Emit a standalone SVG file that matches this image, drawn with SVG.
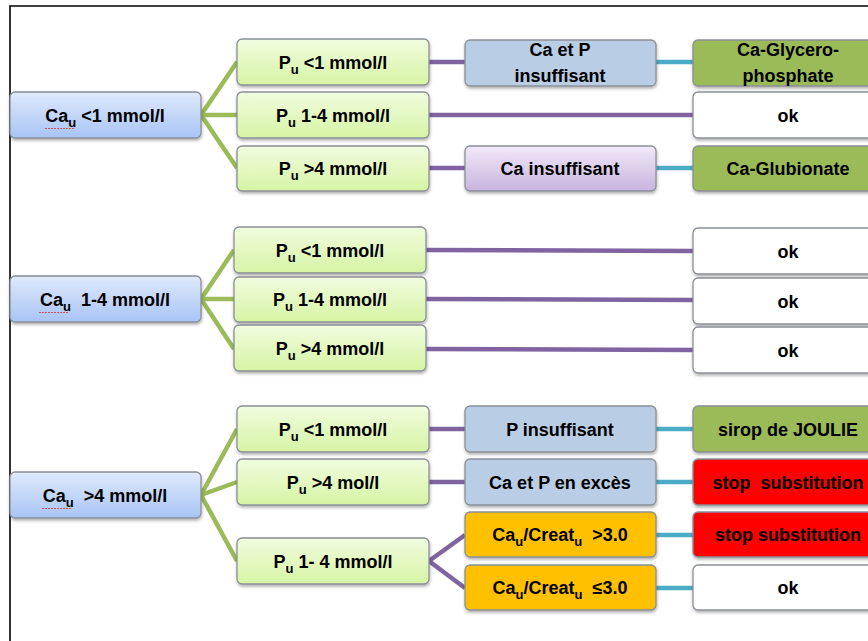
<svg xmlns="http://www.w3.org/2000/svg" width="868" height="641" viewBox="0 0 868 641">
<defs>
<linearGradient id="gBlue" x1="0" y1="0" x2="0" y2="1"><stop offset="0" stop-color="#dfeafc"/><stop offset="1" stop-color="#a8c4f5"/></linearGradient>
<linearGradient id="gGreen" x1="0" y1="0" x2="0" y2="1"><stop offset="0" stop-color="#f1fcdf"/><stop offset="1" stop-color="#d6f4a4"/></linearGradient>
<linearGradient id="gPurple" x1="0" y1="0" x2="0" y2="1"><stop offset="0" stop-color="#f1e9f8"/><stop offset="1" stop-color="#c8b4df"/></linearGradient>
<filter id="sh" x="-10%" y="-20%" width="120%" height="160%"><feDropShadow dx="0.5" dy="2" stdDeviation="1.5" flood-color="#000" flood-opacity="0.3"/></filter>
</defs>
<style>
.box{stroke:#8a8f96;stroke-width:1.3;filter:url(#sh)}
.l{fill:url(#gBlue)}
.p{fill:url(#gGreen)}
.pu{fill:url(#gPurple)}
.bg{fill:#b9cde5}
.or{fill:#ffc000}
.gr{fill:#9bbb59}
.rd{fill:#ff0000}
.wh{fill:#ffffff}
text{font-family:"Liberation Sans",Arial,sans-serif;font-weight:bold;font-size:18px;fill:#000;text-anchor:middle}
.sub{font-size:13px}
.cg{stroke:#9bbb59;stroke-width:4.5;fill:none}
.cp{stroke:#8064a2;stroke-width:4.5;fill:none}
.cc{stroke:#4bacc6;stroke-width:4.5;fill:none}
.sp{stroke:#e03030;stroke-width:0.8;fill:none;stroke-dasharray:2 1}
</style>
<rect width="868" height="641" fill="#fff"/>
<polyline points="10,641 10,6 868,6" fill="none" stroke="#000" stroke-width="1.6"/>

<g id="connectors">
<path class="cg" d="M201,115 L237,62 M201,115 L237,115 M201,115 L237,168"/>
<path class="cg" d="M201,299 L234,250 M201,299 L234,299 M201,299 L234,349"/>
<path class="cg" d="M201,495 L237,429 M201,495 L237,482 M201,495 L237,561"/>
<path class="cp" d="M429,62 L465,62 M429,115 L693,115 M429,168 L465,168"/>
<path class="cp" d="M426,250 L693,251 M426,299 L693,300 M426,349 L693,350"/>
<path class="cp" d="M429,429 L465,429 M429,482 L465,482 M465,535 L429,561 L465,588"/>
<path class="cc" d="M656,62 L693,62 M656,168 L693,168 M656,429 L693,429 M656,482 L693,482 M656,535 L693,535 M656,588 L693,588"/>
</g>

<g id="n-ca1"><rect class="box l" x="10" y="92" width="191" height="46" rx="5"/><text x="105" y="122" xml:space="preserve">Ca<tspan class="sub" dy="5">u</tspan><tspan dy="-5"> &lt;1 mmol/l</tspan></text><path class="sp" d="M45,128.5 L74,128.5"/></g>
<g id="n-ca2"><rect class="box l" x="10" y="276" width="191" height="46" rx="5"/><text x="105" y="306" xml:space="preserve">Ca<tspan class="sub" dy="5">u</tspan><tspan dy="-5">  1-4 mmol/l</tspan></text><path class="sp" d="M39,312.5 L68,312.5"/></g>
<g id="n-ca3"><rect class="box l" x="10" y="472" width="191" height="46" rx="5"/><text x="105" y="502" xml:space="preserve">Ca<tspan class="sub" dy="5">u</tspan><tspan dy="-5">  &gt;4 mmol/l</tspan></text><path class="sp" d="M42,508.5 L71,508.5"/></g>

<g id="n-p11"><rect class="box p" x="237" y="39" width="192" height="46" rx="5"/><text x="333" y="69">P<tspan class="sub" dy="5">u</tspan><tspan dy="-5"> &lt;1 mmol/l</tspan></text></g>
<g id="n-p12"><rect class="box p" x="237" y="92" width="192" height="46" rx="5"/><text x="333" y="122">P<tspan class="sub" dy="5">u</tspan><tspan dy="-5"> 1-4 mmol/l</tspan></text></g>
<g id="n-p13"><rect class="box p" x="237" y="146" width="192" height="45" rx="5"/><text x="333" y="175">P<tspan class="sub" dy="5">u</tspan><tspan dy="-5"> &gt;4 mmol/l</tspan></text></g>

<g id="n-p21"><rect class="box p" x="234" y="227" width="192" height="46" rx="5"/><text x="330" y="257">P<tspan class="sub" dy="5">u</tspan><tspan dy="-5"> &lt;1 mmol/l</tspan></text></g>
<g id="n-p22"><rect class="box p" x="234" y="277" width="192" height="45" rx="5"/><text x="330" y="306">P<tspan class="sub" dy="5">u</tspan><tspan dy="-5"> 1-4 mmol/l</tspan></text></g>
<g id="n-p23"><rect class="box p" x="234" y="325" width="192" height="46" rx="5"/><text x="330" y="355">P<tspan class="sub" dy="5">u</tspan><tspan dy="-5"> &gt;4 mmol/l</tspan></text></g>

<g id="n-p31"><rect class="box p" x="237" y="406" width="192" height="46" rx="5"/><text x="333" y="436">P<tspan class="sub" dy="5">u</tspan><tspan dy="-5"> &lt;1 mmol/l</tspan></text></g>
<g id="n-p32"><rect class="box p" x="237" y="459" width="192" height="46" rx="5"/><text x="333" y="489">P<tspan class="sub" dy="5">u</tspan><tspan dy="-5"> &gt;4 mol/l</tspan></text></g>
<g id="n-p33"><rect class="box p" x="237" y="538" width="192" height="46" rx="5"/><text x="333" y="568">P<tspan class="sub" dy="5">u</tspan><tspan dy="-5"> 1- 4 mmol/l</tspan></text></g>

<g id="n-m1"><rect class="box bg" x="465" y="40" width="191" height="46" rx="5"/><text x="560" y="56">Ca et P</text><text x="560" y="82">insuffisant</text></g>
<g id="n-m2"><rect class="box pu" x="465" y="146" width="191" height="45" rx="5"/><text x="560" y="175">Ca insuffisant</text></g>
<g id="n-m3"><rect class="box bg" x="465" y="406" width="191" height="46" rx="5"/><text x="560" y="436">P insuffisant</text></g>
<g id="n-m4"><rect class="box bg" x="465" y="459" width="191" height="46" rx="5"/><text x="560" y="489">Ca et P en excès</text></g>
<g id="n-m5"><rect class="box or" x="465" y="512" width="191" height="45" rx="5"/><text x="560" y="541" xml:space="preserve">Ca<tspan class="sub" dy="5">u</tspan><tspan dy="-5">/Creat</tspan><tspan class="sub" dy="5">u</tspan><tspan dy="-5">  &gt;3.0</tspan></text></g>
<g id="n-m6"><rect class="box or" x="465" y="565" width="191" height="45" rx="5"/><text x="560" y="594" xml:space="preserve">Ca<tspan class="sub" dy="5">u</tspan><tspan dy="-5">/Creat</tspan><tspan class="sub" dy="5">u</tspan><tspan dy="-5">  ≤3.0</tspan></text></g>

<g id="n-r1"><rect class="box gr" x="693" y="40" width="191" height="46" rx="5"/><text x="788" y="56">Ca-Glycero-</text><text x="788" y="82">phosphate</text></g>
<g id="n-r2"><rect class="box wh" x="693" y="92" width="191" height="46" rx="5"/><text x="788" y="122">ok</text></g>
<g id="n-r3"><rect class="box gr" x="693" y="146" width="191" height="45" rx="5"/><text x="788" y="175">Ca-Glubionate</text></g>
<g id="n-r4"><rect class="box wh" x="693" y="228" width="191" height="46" rx="5"/><text x="788" y="258">ok</text></g>
<g id="n-r5"><rect class="box wh" x="693" y="278" width="191" height="46" rx="5"/><text x="788" y="308">ok</text></g>
<g id="n-r6"><rect class="box wh" x="693" y="327" width="191" height="46" rx="5"/><text x="788" y="357">ok</text></g>
<g id="n-r7"><rect class="box gr" x="693" y="406" width="191" height="46" rx="5"/><text x="788" y="436">sirop de JOULIE</text></g>
<g id="n-r8"><rect class="box rd" x="693" y="459" width="191" height="46" rx="5"/><text x="788" y="489" xml:space="preserve">stop  substitution</text></g>
<g id="n-r9"><rect class="box rd" x="693" y="512" width="191" height="45" rx="5"/><text x="788" y="541">stop substitution</text></g>
<g id="n-r10"><rect class="box wh" x="693" y="565" width="191" height="45" rx="5"/><text x="788" y="594">ok</text></g>
</svg>
